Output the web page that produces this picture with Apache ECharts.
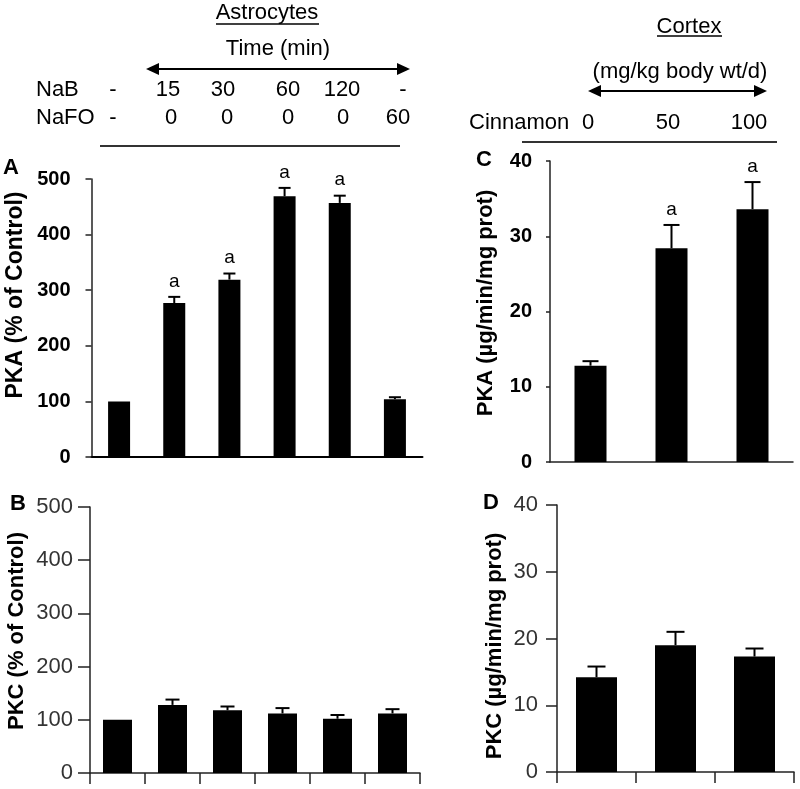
<!DOCTYPE html>
<html><head><meta charset="utf-8">
<script src="https://cdn.jsdelivr.net/npm/echarts@6/dist/echarts.min.js"></script>
<style>html,body{margin:0;padding:0;background:#fff}#c{width:800px;height:789px}</style>
</head><body><div id="c"></div>
<script>
// ---------- data ----------
const astroCategories = ['Control', 'NaB 15', 'NaB 30', 'NaB 60', 'NaB 120', 'NaFO 60'];
const nabLabels = ['-', '15', '30', '60', '120', '-'];
const nafoLabels = ['-', '0', '0', '0', '0', '60'];
const pkaAstro = [100, 277, 319, 469, 457, 104];
const pkaAstroErr = [0, 11, 11, 15, 13, 3.5];
const pkaAstroSig = ['', 'a', 'a', 'a', 'a', ''];
const pkcAstro = [100, 128, 118, 112, 102, 112];
const pkcAstroErr = [0, 10, 7, 10, 7, 8];
const cortexCategories = ['0', '50', '100'];
const cinnamonLabels = ['0', '50', '100'];
const pkaCortex = [12.8, 28.4, 33.6];
const pkaCortexErr = [0.6, 3.1, 3.6];
const pkaCortexSig = ['', 'a', 'a'];
const pkcCortex = [14.2, 19.0, 17.3];
const pkcCortexErr = [1.6, 2.0, 1.2];
const astroTicks = [0, 100, 200, 300, 400, 500];
const cortexTicks = [0, 10, 20, 30, 40];

// ---------- layout ----------
const FONT = '"Liberation Sans", Arial, sans-serif';
const nabX = [113, 168, 223, 288, 342, 403];
const nafoX = [113, 171, 227, 288, 343, 398];
const cinnX = [588, 668, 749];

const chart = echarts.init(document.getElementById('c'), null, {renderer: 'canvas'});

function errSeries(idx, vals, errs, sig, cap, color) {
  return {
    type: 'custom', xAxisIndex: idx, yAxisIndex: idx, z: 5, silent: true,
    data: vals.map((v, i) => [i, v, errs[i]]),
    renderItem(params, api) {
      const i = api.value(0), v = api.value(1), e = api.value(2);
      const p0 = api.coord([i, v]);
      const p1 = api.coord([i, v + e]);
      const children = [];
      if (e > 0) {
        children.push({type: 'line', shape: {x1: p0[0], y1: p0[1], x2: p1[0], y2: p1[1]}, style: {stroke: color, lineWidth: 2}});
        children.push({type: 'line', shape: {x1: p1[0] - cap / 2, y1: p1[1], x2: p1[0] + cap / 2, y2: p1[1]}, style: {stroke: color, lineWidth: 2}});
      }
      const s = sig ? sig[params.dataIndex] : '';
      if (s) {
        children.push({type: 'text', style: {text: s, x: p1[0], y: p1[1] - 6, align: 'center', verticalAlign: 'bottom', textAlign: 'center', textVerticalAlign: 'bottom', font: '19px ' + FONT, fill: '#000'}});
      }
      return {type: 'group', children};
    }
  };
}

function txt(text, x, y, opts) {
  opts = opts || {};
  return {
    type: 'text', x: x, y: y, rotation: opts.rot || 0, silent: true,
    style: {
      text: text, font: (opts.weight || 'normal') + ' ' + (opts.size || 22) + 'px ' + FONT,
      fill: opts.color || '#000',
      align: opts.align || 'center', textAlign: opts.align || 'center',
      verticalAlign: 'middle', textVerticalAlign: 'middle'
    }
  };
}
function hline(x1, x2, y, w, c) {
  return {type: 'line', silent: true, shape: {x1: x1, y1: y, x2: x2, y2: y}, style: {stroke: c || '#222', lineWidth: w || 2}};
}
function arrow(x1, x2, y) {
  return [
    hline(x1 + 6, x2 - 6, y, 2, '#000'),
    {type: 'polygon', silent: true, shape: {points: [[x1, y], [x1 + 13, y - 6], [x1 + 13, y + 6]]}, style: {fill: '#000'}},
    {type: 'polygon', silent: true, shape: {points: [[x2, y], [x2 - 13, y - 6], [x2 - 13, y + 6]]}, style: {fill: '#000'}}
  ];
}

const graphics = [];
// Astrocytes header
graphics.push(txt('Astrocytes', 267, 13));
graphics.push(hline(216, 319, 24, 1.5, '#000'));
graphics.push(txt('Time (min)', 278, 49));
graphics.push(...arrow(146, 410, 69));
graphics.push(txt('NaB', 36, 90, {align: 'left'}));
graphics.push(txt('NaFO', 36, 118, {align: 'left'}));
nabLabels.forEach((t, i) => graphics.push(txt(t, nabX[i], 90)));
nafoLabels.forEach((t, i) => graphics.push(txt(t, nafoX[i], 118)));
graphics.push(hline(100, 400, 146, 2, '#333'));
// Cortex header
graphics.push(txt('Cortex', 689, 27));
graphics.push(hline(657, 722, 36, 1.5, '#000'));
graphics.push(txt('(mg/kg body wt/d)', 680, 72));
graphics.push(...arrow(588, 767, 91));
graphics.push(txt('Cinnamon', 469, 123, {align: 'left'}));
cinnamonLabels.forEach((t, i) => graphics.push(txt(t, cinnX[i], 123)));
graphics.push(hline(522, 777, 142, 2, '#333'));
// panel letters
graphics.push(txt('A', 11, 168, {weight: 'bold', size: 22}));
graphics.push(txt('B', 18, 504, {weight: 'bold', size: 22}));
graphics.push(txt('C', 484, 160, {weight: 'bold', size: 22}));
graphics.push(txt('D', 491, 503, {weight: 'bold', size: 22}));
// axis names
graphics.push(txt('PKA (% of Control)', 16, 295, {weight: 'bold', size: 23, rot: Math.PI / 2}));
graphics.push(txt('PKC (% of Control)', 17, 631, {weight: 'bold', size: 22, rot: Math.PI / 2}));
graphics.push(txt('PKA (\u00b5g/min/mg prot)', 486, 303, {weight: 'bold', size: 22, rot: Math.PI / 2}));
graphics.push(txt('PKC (\u00b5g/min/mg prot)', 495, 646, {weight: 'bold', size: 22, rot: Math.PI / 2}));

function yAx(idx, ticks, o) {
  return {
    type: 'value', gridIndex: idx, min: ticks[0], max: ticks[ticks.length - 1], interval: ticks[1] - ticks[0],
    splitLine: {show: false},
    axisLine: {show: o.line, lineStyle: {color: o.lineColor, width: 1.5}},
    axisTick: {show: o.tick > 0, length: o.tick, lineStyle: {color: o.lineColor, width: 1.5}},
    axisLabel: {fontFamily: FONT, fontSize: o.fs, fontWeight: o.bold ? 'bold' : 'normal', color: o.labelColor, margin: o.margin}
  };
}
function xAx(idx, cats, o) {
  return {
    type: 'category', gridIndex: idx, data: cats,
    axisLine: {show: true, lineStyle: {color: o.lineColor, width: o.w}},
    axisTick: {show: o.tick > 0, interval: 0, length: o.tick, lineStyle: {color: o.lineColor, width: 1.5}},
    axisLabel: {show: false}
  };
}
function bars(idx, vals, w) {
  return {type: 'bar', xAxisIndex: idx, yAxisIndex: idx, data: vals, barWidth: w, itemStyle: {color: '#000'}, silent: true, z: 3};
}

chart.setOption({
  animation: false,
  backgroundColor: '#fff',
  grid: [
    {left: 91.5, top: 179, width: 331, height: 278},
    {left: 90, top: 507, width: 330, height: 266},
    {left: 550, top: 161, width: 243, height: 301},
    {left: 557, top: 505, width: 237, height: 267}
  ],
  xAxis: [
    xAx(0, astroCategories, {lineColor: '#000', w: 2, tick: 0}),
    xAx(1, astroCategories, {lineColor: '#222', w: 1.5, tick: 11}),
    xAx(2, cortexCategories, {lineColor: '#222', w: 1.5, tick: 0}),
    xAx(3, cortexCategories, {lineColor: '#222', w: 1.5, tick: 11})
  ],
  yAxis: [
    yAx(0, astroTicks, {line: true, tick: 6, fs: 20, bold: true, labelColor: '#000', margin: 21, lineColor: '#222'}),
    yAx(1, astroTicks, {line: true, tick: 12, fs: 22, bold: false, labelColor: '#333', margin: 17, lineColor: '#222'}),
    yAx(2, cortexTicks, {line: true, tick: 4, fs: 20, bold: true, labelColor: '#000', margin: 18, lineColor: '#222'}),
    yAx(3, cortexTicks, {line: true, tick: 11, fs: 22, bold: false, labelColor: '#333', margin: 19, lineColor: '#222'})
  ],
  series: [
    bars(0, pkaAstro, 22), errSeries(0, pkaAstro, pkaAstroErr, pkaAstroSig, 12, '#000'),
    bars(1, pkcAstro, 29), errSeries(1, pkcAstro, pkcAstroErr, null, 14, '#000'),
    bars(2, pkaCortex, 32), errSeries(2, pkaCortex, pkaCortexErr, pkaCortexSig, 16, '#000'),
    bars(3, pkcCortex, 41), errSeries(3, pkcCortex, pkcCortexErr, null, 18, '#000')
  ],
  graphic: graphics
});
</script>
</body></html>
